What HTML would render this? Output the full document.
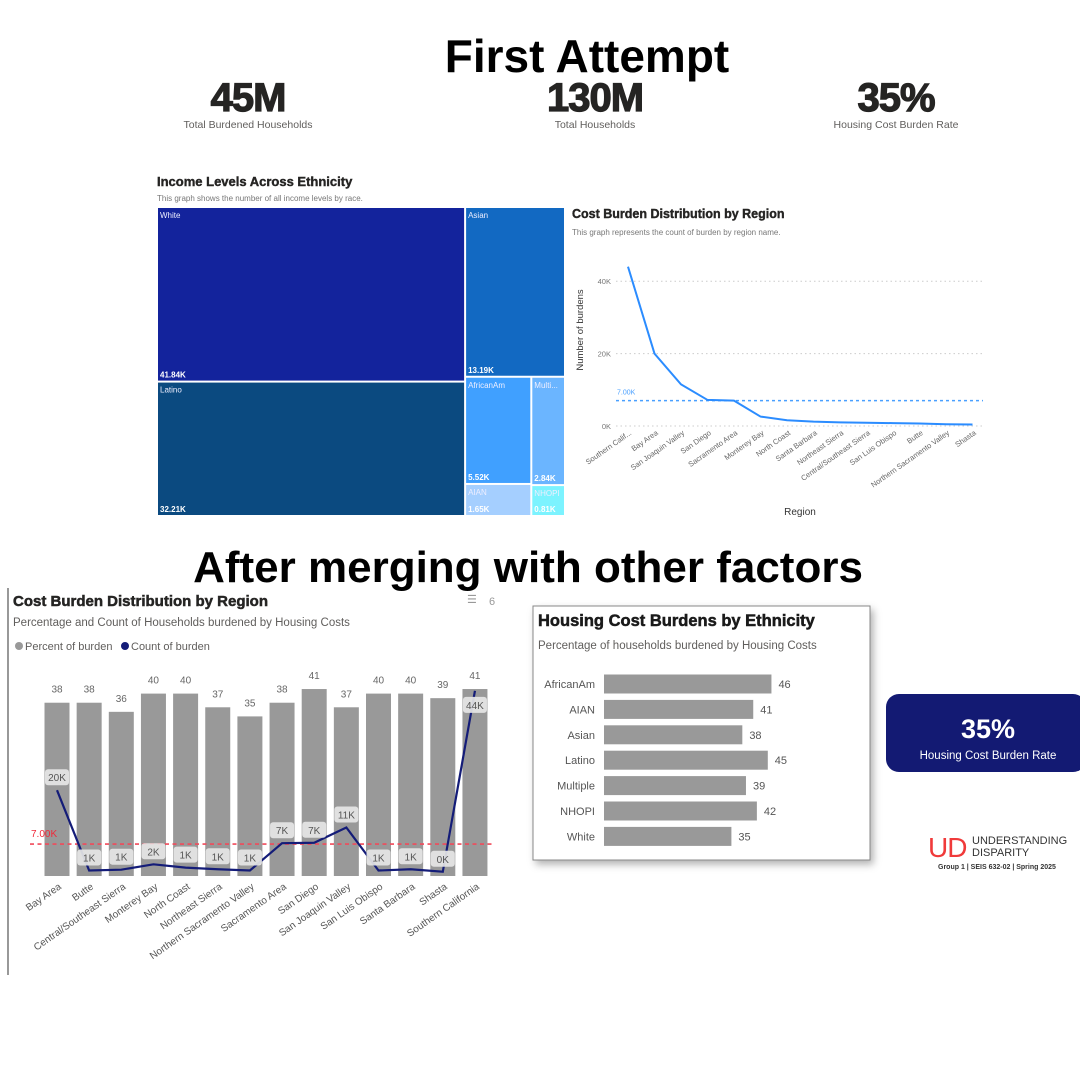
<!DOCTYPE html>
<html><head><meta charset="utf-8">
<style>
html,body{margin:0;padding:0;background:#fff;}
body{width:1080px;height:1080px;overflow:hidden;font-family:"Liberation Sans",sans-serif;}
svg text{font-family:"Liberation Sans",sans-serif;}
</style></head>
<body>
<svg id="root" width="1080" height="1080" viewBox="0 0 1080 1080" xmlns="http://www.w3.org/2000/svg">
  <defs>
    <filter id="sh" x="-10%" y="-10%" width="125%" height="130%"><feDropShadow dx="3" dy="4" stdDeviation="4" flood-color="#000" flood-opacity="0.3"/></filter>
  </defs>
  <text x="587" y="72" text-anchor="middle" font-size="46" font-weight="bold" fill="#000">First Attempt</text>
  <g>
    <text x="248" y="111" text-anchor="middle" font-size="40" font-weight="900" fill="#252423" stroke="#252423" stroke-width="1.2" letter-spacing="-1">45M</text>
    <text x="248" y="128" text-anchor="middle" font-size="10.5" fill="#605e5c">Total Burdened Households</text>
  </g>
  <g>
    <text x="595" y="111" text-anchor="middle" font-size="40" font-weight="900" fill="#252423" stroke="#252423" stroke-width="1.2" letter-spacing="-1">130M</text>
    <text x="595" y="128" text-anchor="middle" font-size="10.5" fill="#605e5c">Total Households</text>
  </g>
  <g>
    <text x="896" y="111" text-anchor="middle" font-size="40" font-weight="900" fill="#252423" stroke="#252423" stroke-width="1.2" letter-spacing="-1">35%</text>
    <text x="896" y="128" text-anchor="middle" font-size="10.5" fill="#605e5c">Housing Cost Burden Rate</text>
  </g>

  <text x="157" y="186" font-size="13" font-weight="bold" fill="#252423" stroke="#252423" stroke-width="0.4">Income Levels Across Ethnicity</text>
  <text x="157" y="201" font-size="8" fill="#777">This graph shows the number of all income levels by race.</text>
  <g id="treemap"></g>

  <text x="572" y="218" font-size="12.5" font-weight="bold" fill="#252423" stroke="#252423" stroke-width="0.4">Cost Burden Distribution by Region</text>
  <text x="572" y="235" font-size="8" fill="#777">This graph represents the count of burden by region name.</text>
  <g id="linechart"></g>

  <text x="528" y="582" text-anchor="middle" font-size="44" font-weight="bold" fill="#000">After merging with other factors</text>

  <line x1="8" y1="588" x2="8" y2="975" stroke="#555" stroke-width="1.2"/>
  <text x="13" y="606" font-size="15" font-weight="bold" fill="#252423" stroke="#252423" stroke-width="0.5">Cost Burden Distribution by Region</text>
  <text x="467" y="603" font-size="11" fill="#999">☰</text>
  <text x="489" y="605" font-size="11" fill="#999">6</text>
  <text x="13" y="626" font-size="11.5" fill="#605e5c">Percentage and Count of Households burdened by Housing Costs</text>
  <g>
    <circle cx="19" cy="646" r="4" fill="#999"/>
    <text x="25" y="650" font-size="11" fill="#605e5c">Percent of burden</text>
    <circle cx="125" cy="646" r="4" fill="#141c78"/>
    <text x="131" y="650" font-size="11" fill="#605e5c">Count of burden</text>
  </g>
  <g id="combo"></g>

  <g>
    <rect x="533" y="606" width="337" height="254" fill="#fff" stroke="#888" stroke-width="1" filter="url(#sh)"/>
    <text x="538" y="626" font-size="16.5" font-weight="bold" fill="#1a1a1a" stroke="#1a1a1a" stroke-width="0.5">Housing Cost Burdens by Ethnicity</text>
    <text x="538" y="649" font-size="11.5" fill="#605e5c">Percentage of households burdened by Housing Costs</text>
    <g id="hbars"></g>
  </g>

  <g>
    <rect x="886" y="694" width="200" height="78" rx="13" fill="#131a73"/>
    <text x="988" y="738" text-anchor="middle" font-size="27" font-weight="bold" fill="#fff">35%</text>
    <text x="988" y="759" text-anchor="middle" font-size="11.5" fill="#fff">Housing Cost Burden Rate</text>
  </g>
  <g>
    <text x="928" y="857" font-size="28" fill="#f03a3a" letter-spacing="-1">UD</text>
    <text x="972" y="844" font-size="11" fill="#333">UNDERSTANDING</text>
    <text x="972" y="856" font-size="11" fill="#333">DISPARITY</text>
    <text x="938" y="869" font-size="7" font-weight="bold" fill="#333">Group 1 | SEIS 632-02 | Spring 2025</text>
  </g>
</svg>
<script>
const NS="http://www.w3.org/2000/svg";
function mk(tag,attrs,parent,txt){const e=document.createElementNS(NS,tag);for(const k in attrs)e.setAttribute(k,attrs[k]);if(txt!==undefined)e.textContent=txt;parent.appendChild(e);return e;}

// ---- Treemap data ----
const tmNames=["White","Latino","Asian","AfricanAm","Multi...","AIAN","NHOPI"];
const tmValues=[41.84,32.21,13.19,5.52,2.84,1.65,0.81];
const tmLabels=["41.84K","32.21K","13.19K","5.52K","2.84K","1.65K","0.81K"];

// ---- Line chart data ----
const lcRegions=["Southern Calif...","Bay Area","San Joaquin Valley","San Diego","Sacramento Area","Monterey Bay","North Coast","Santa Barbara","Northeast Sierra","Central/Southeast Sierra","San Luis Obispo","Butte","Northern Sacramento Valley","Shasta"];
const lcCounts=[44,20,11.5,7.2,7,2.6,1.6,1.2,1,0.9,0.8,0.7,0.5,0.4];
const lcTicks=[0,20,40];
const lcRef=7;

// ---- Combo chart data ----
const cbRegions=["Bay Area","Butte","Central/Southeast Sierra","Monterey Bay","North Coast","Northeast Sierra","Northern Sacramento Valley","Sacramento Area","San Diego","San Joaquin Valley","San Luis Obispo","Santa Barbara","Shasta","Southern California"];
const cbPercent=[38,38,36,40,40,37,35,38,41,37,40,40,39,41];
const cbCount=[20,0.6,0.8,2.1,1.3,0.9,0.6,7.2,7.3,11,0.6,0.9,0.3,44];
const cbRef=7;

// ---- Horizontal bar data ----
const hbCats=["AfricanAm","AIAN","Asian","Latino","Multiple","NHOPI","White"];
const hbValues=[46,41,38,45,39,42,35];

// Treemap layout
(function(){
  const g=document.getElementById('treemap');
  const X0=157,Y0=207,W=408,H=309,gap=2;
  const colors=["#13239c","#0b4a80","#1269c2","#40a0ff","#6bb5ff","#a5cfff","#7cf3ff"];
  const tot=tmValues.reduce((a,b)=>a+b,0);
  const rects=[];
  const c1=tmValues[0]+tmValues[1];
  const w1=W*c1/tot;
  const hW=H*tmValues[0]/c1;
  rects[0]=[X0,Y0,w1,hW];rects[1]=[X0,Y0+hW,w1,H-hW];
  const c2=tot-c1,x2=X0+w1,w2=W-w1;
  const hA=H*tmValues[2]/c2;
  rects[2]=[x2,Y0,w2,hA];
  const rest=tmValues[3]+tmValues[4]+tmValues[5]+tmValues[6];
  const lc=tmValues[3]+tmValues[5],wl=w2*lc/rest,hr=H-hA;
  const hAf=hr*tmValues[3]/lc;
  rects[3]=[x2,Y0+hA,wl,hAf];rects[5]=[x2,Y0+hA+hAf,wl,hr-hAf];
  const rc=tmValues[4]+tmValues[6],hMu=hr*tmValues[4]/rc;
  rects[4]=[x2+wl,Y0+hA,w2-wl,hMu];rects[6]=[x2+wl,Y0+hA+hMu,w2-wl,hr-hMu];
  rects.forEach((r,i)=>{
    const cell=mk('g',{},g);
    
    
    mk('rect',{x:r[0]+1,y:r[1]+1,width:r[2]-gap,height:r[3]-gap,fill:colors[i]},cell);
    mk('text',{x:r[0]+3,y:r[1]+11,'font-size':8,fill:'#eef'},cell,tmNames[i]);
    mk('text',{x:r[0]+3,y:r[1]+r[3]-4,'font-size':8,'font-weight':'bold',fill:'#fff'},cell,tmLabels[i]);
  });
})();

// Line chart
(function(){
  const g=document.getElementById('linechart');
  const x0=628,dx=26.5,yb=426,ppk=3.62;
  const X=i=>x0+i*dx, Y=v=>yb-v*ppk;
  lcTicks.forEach(t=>{
    mk('line',{x1:616,y1:Y(t),x2:983,y2:Y(t),stroke:'#ccc','stroke-dasharray':'1.5,3'},g);
    const tl=mk('text',{x:611,y:Y(t)+3,'text-anchor':'end','font-size':7.5,fill:'#777'},g,t+'K');
    
    
  });
  const rl=mk('line',{x1:616,y1:Y(lcRef),x2:983,y2:Y(lcRef),stroke:'#4aa0ff','stroke-width':1.5,'stroke-dasharray':'3,3'},g);
  
  
  mk('text',{x:617,y:Y(lcRef)-6,'font-size':7,fill:'#4aa0ff'},g,(lcRef).toFixed(2)+'K');
  const p=mk('path',{d:lcCounts.map((v,i)=>(i?'L':'M')+X(i)+','+Y(v)).join(''),fill:'none',stroke:'#2b8cff','stroke-width':2},g);
  
  
  lcRegions.forEach((r,i)=>{
    const t=mk('text',{x:X(i)+4,y:434,'text-anchor':'end','font-size':7.5,fill:'#666',transform:'rotate(-35 '+(X(i)+4)+' 434)'},g,r);
    
    
  });
  const yt=mk('text',{x:0,y:0,'font-size':9.5,fill:'#333','text-anchor':'middle',transform:'translate(583 330) rotate(-90)'},g,'Number of burdens');
  
  
  const xt=mk('text',{x:800,y:515,'font-size':10,fill:'#333','text-anchor':'middle'},g,'Region');
  
  
})();

// Combo chart
(function(){
  const g=document.getElementById('combo');
  const x0=57,dx=32.15,bw=25,yb=876,ppp=4.56,cb=873,ppk=4.14;
  const X=i=>x0+i*dx, YP=v=>yb-v*ppp, YC=v=>cb-v*ppk;
  cbPercent.forEach((v,i)=>{
    const b=mk('rect',{x:X(i)-bw/2,y:YP(v),width:bw,height:yb-YP(v),fill:'#999'},g);
    
    
    mk('text',{x:X(i),y:YP(v)-10,'text-anchor':'middle','font-size':10,fill:'#666'},g,v);
  });
  const rl=mk('line',{x1:30,y1:YC(cbRef),x2:495,y2:YC(cbRef),stroke:'#f04a5a','stroke-width':1.6,'stroke-dasharray':'4,3.5'},g);
  
  
  mk('text',{x:31,y:YC(cbRef)-7,'font-size':10,fill:'#f02a3a'},g,cbRef.toFixed(2)+'K');
  const p=mk('path',{d:cbCount.map((v,i)=>(i?'L':'M')+X(i)+','+YC(v)).join(''),fill:'none',stroke:'#141c78','stroke-width':2.2},g);
  
  
  cbCount.forEach((v,i)=>{
    const last=i===cbCount.length-1;
    const ly=last?YC(v)+14:YC(v)-13;
    const lab=mk('g',{},g);
    
    
    mk('rect',{x:X(i)-12,y:ly-8,width:24,height:16,rx:3,fill:'#e6e6e6','fill-opacity':0.92},lab);
    mk('text',{x:X(i),y:ly+4,'text-anchor':'middle','font-size':10,fill:'#555'},lab,Math.round(v)+'K');
  });
  cbRegions.forEach((r,i)=>{
    const t=mk('text',{x:X(i)+5,y:888,'text-anchor':'end','font-size':10,fill:'#555',transform:'rotate(-35 '+(X(i)+5)+' 888)'},g,r);
    
    
  });
})();

// Horizontal bars
(function(){
  const g=document.getElementById('hbars');
  const x0=604,ppu=3.64,y0=684,dy=25.4,bh=19;
  const X=v=>x0+v*ppu, Y=i=>y0+i*dy;
  hbCats.forEach((c,i)=>{
    mk('text',{x:595,y:Y(i)+4,'text-anchor':'end','font-size':11,fill:'#555'},g,c);
    const b=mk('rect',{x:x0,y:Y(i)-bh/2,width:X(hbValues[i])-x0,height:bh,fill:'#999'},g);
    
    
    mk('text',{x:X(hbValues[i])+7,y:Y(i)+4,'font-size':11,fill:'#555'},g,hbValues[i]);
  });
})();
</script>
</body></html>
